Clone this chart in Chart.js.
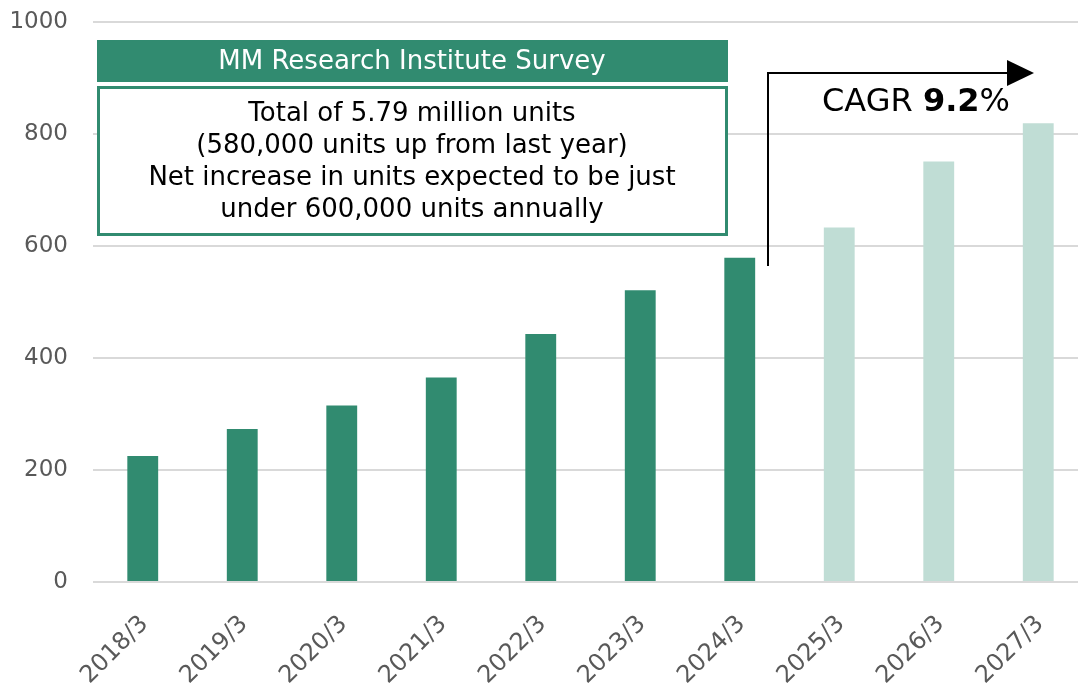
<!DOCTYPE html>
<html>
<head>
<meta charset="utf-8">
<script src="https://cdn.jsdelivr.net/npm/chart.js@4/dist/chart.umd.min.js"></script>
<style>
  html, body { margin: 0; padding: 0; background: #fff; overflow: hidden; }
  #wrap { width: 1088px; height: 690px; }
</style>
</head>
<body>
<div id="wrap"><canvas id="chart" width="1088" height="690"></canvas></div>
<script>
const categories = ['2018/3', '2019/3', '2020/3', '2021/3', '2022/3', '2023/3', '2024/3', '2025/3', '2026/3', '2027/3'];
const units = [225, 273, 315, 365, 443, 521, 579, 633, 751, 819];
const forecastFrom = 7; // index of first forecast year
const yTicks = [0, 200, 400, 600, 800, 1000];

const DARK = '#318b70';
const LIGHT = '#c0ddd5';
const FONT = '"DejaVu Sans", Verdana, sans-serif';

const barColors = units.map((v, i) => i >= forecastFrom ? LIGHT : DARK);

// text boxes + CAGR arrow drawn on top of the chart
const annotations = {
    id: 'annotations',
    afterDraw(chart) {
        const ctx = chart.ctx;
        ctx.save();

        // header box
        ctx.fillStyle = DARK;
        ctx.fillRect(97, 40, 631, 42);
        ctx.fillStyle = '#fff';
        ctx.font = '26px ' + FONT;
        ctx.textAlign = 'center';
        ctx.textBaseline = 'middle';
        ctx.fillText('MM Research Institute Survey', 412, 62);

        // note box
        ctx.fillStyle = '#fff';
        ctx.fillRect(98, 87, 629, 148);
        ctx.strokeStyle = DARK;
        ctx.lineWidth = 3;
        ctx.strokeRect(98.5, 87.5, 628, 147);
        ctx.fillStyle = '#000';
        const lines = [
            'Total of 5.79 million units',
            '(580,000 units up from last year)',
            'Net increase in units expected to be just',
            'under 600,000 units annually'
        ];
        lines.forEach((t, i) => ctx.fillText(t, 412, 114 + i * 32));

        // CAGR arrow
        ctx.strokeStyle = '#000';
        ctx.lineWidth = 2;
        ctx.beginPath();
        ctx.moveTo(768, 266);
        ctx.lineTo(768, 73);
        ctx.lineTo(1008, 73);
        ctx.stroke();
        ctx.fillStyle = '#000';
        ctx.beginPath();
        ctx.moveTo(1007, 60);
        ctx.lineTo(1034, 73);
        ctx.lineTo(1007, 86);
        ctx.closePath();
        ctx.fill();

        // CAGR label
        ctx.textAlign = 'left';
        ctx.textBaseline = 'alphabetic';
        let x = 822;
        const y = 111;
        ctx.font = '32px ' + FONT;
        ctx.fillText('CAGR ', x, y);
        x += ctx.measureText('CAGR ').width;
        ctx.font = 'bold 32px ' + FONT;
        ctx.fillText('9.2', x, y);
        x += ctx.measureText('9.2').width;
        ctx.font = '32px ' + FONT;
        ctx.fillText('%', x, y);

        ctx.restore();
    }
};

new Chart(document.getElementById('chart'), {
    type: 'bar',
    data: {
        labels: categories,
        datasets: [{
            data: units,
            backgroundColor: barColors,
            borderWidth: 0,
            barPercentage: 0.31,
            categoryPercentage: 1
        }]
    },
    options: {
        responsive: false,
        animation: false,
        layout: { padding: { top: 22, right: 0, left: 0, bottom: 0 } },
        plugins: { legend: { display: false }, tooltip: { enabled: false } },
        scales: {
            x: {
                grid: { display: false },
                border: { display: false },
                ticks: {
                    color: '#595959',
                    font: { family: FONT, size: 24 },
                    minRotation: 45,
                    maxRotation: 45,
                    padding: 20,
                    labelOffset: 2
                },
                afterFit(scale) { scale.height = 108; }
            },
            y: {
                min: 0,
                max: 1000,
                afterBuildTicks(scale) { scale.ticks = yTicks.map(v => ({ value: v })); },
                grid: { color: '#d9d9d9', lineWidth: 2, drawTicks: false },
                border: { display: false },
                ticks: {
                    color: '#595959',
                    font: { family: FONT, size: 23 },
                    padding: 25,
                    callback: v => String(v)
                },
                afterFit(scale) {
                    scale.width = 93;
                    scale.paddingTop = 0;
                    scale.paddingBottom = 0;
                }
            }
        }
    },
    plugins: [annotations]
});
</script>
</body>
</html>
